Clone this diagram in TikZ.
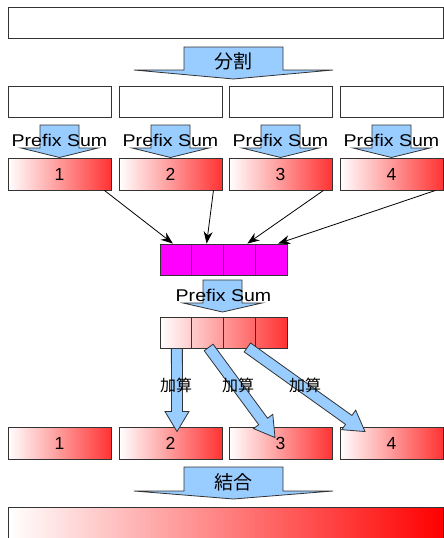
\documentclass[tikz,border=0pt]{standalone}
\usepackage{fontspec}
\setmainfont{Liberation Sans}
\newfontfamily\jpfont{Noto Sans CJK JP}
\usetikzlibrary{calc,arrows.meta}

\definecolor{arrowblue}{HTML}{99CCFF}
\definecolor{edgegray}{HTML}{333333}
\definecolor{redend}{HTML}{FF3333}
\definecolor{cellmag}{HTML}{FF00FF}

\tikzset{
  boxbase/.style={rectangle, draw=edgegray, line width=0.9pt, inner sep=0pt},
  plainbox/.style={boxbase, fill=white},
  redbox/.style={boxbase, minimum width=103pt, minimum height=32pt,
    left color=white, right color=redend,
    font=\fontsize{17.5}{17.5}\selectfont},
  blankbox/.style={plainbox, minimum width=103pt, minimum height=31pt},
  magcell/.style={boxbase, fill=cellmag, minimum width=31.75pt, minimum height=31pt},
  sumcell/.style={boxbase, minimum width=31.75pt, minimum height=31pt},
  psumlabel/.style={inner sep=0pt, font=\fontsize{17}{17}\selectfont},
  jplabel/.style={inner sep=0pt, font=\jpfont\fontsize{19}{19}\selectfont},
  addlabel/.style={inner sep=0pt, font=\jpfont\fontsize{16}{16}\selectfont},
  bigblue/.style={fill=arrowblue, draw=edgegray, line width=0.8pt, line join=miter},
  link/.style={draw=black, line width=0.8pt, -{Stealth[length=12pt,width=9pt]}},
}

% wide flat down arrow: centre x, top y, shoulder y, tip y, half body, half wing
\newcommand\flatarrow[6]{%
  \draw[bigblue] ({#1-#5},#2) -- ({#1+#5},#2) -- ({#1+#5},#3) -- ({#1+#6},#3)
    -- (#1,#4) -- ({#1-#6},#3) -- ({#1-#5},#3) -- cycle;}

% slim block arrow from point #1 to point #2
\newcommand\addarrow[2]{%
  \draw[bigblue] let \p1=(#1), \p2=(#2) in
    coordinate (hb) at ($(\p2)!20pt!(\p1)$)
    ($(\p1)!5.5pt!90:(\p2)$) -- ($(hb)!5.5pt!-90:(\p1)$) -- ($(hb)!12pt!-90:(\p1)$)
    -- (\p2) -- ($(hb)!12pt!90:(\p1)$) -- ($(hb)!5.5pt!90:(\p1)$)
    -- ($(\p1)!5.5pt!-90:(\p2)$) -- cycle;}

\begin{document}
\begin{tikzpicture}[x=1pt, y=-1pt]
\useasboundingbox (0,0) rectangle (444,538);
\clip (0,0) rectangle (444,538);

% whole input
\node[plainbox, minimum width=435pt, minimum height=31pt] (whole) at (225.5,22.5) {};

% split
\flatarrow{233.5}{47}{70}{79}{49.5}{99.5}
\node[jplabel] (split) at (233.5,61) {分割};

% four blocks
\foreach \i/\cx in {1/59.5, 2/170.5, 3/280.5, 4/391.5} {
  \node[blankbox] (b\i) at (\cx,101.5) {};
  \node[redbox] (r\i) at (\cx,174) {\i};
  \flatarrow{\cx}{125}{148}{157.5}{19.5}{38.5}
  \node[psumlabel] (ps\i) at (\cx,140) {\scalebox{1.15}[1]{Prefix Sum}};
}

% totals gathered
\foreach \i in {1,...,4}
  \node[magcell] (m\i) at ({160+31.75*(\i-0.5)},259.5) {};

\draw[link] ($(r1.south east)+(-7,0)$) -- ($(m1.north)+(-3,0)$);
\draw[link] ($(r2.south east)+(-9,0)$) -- ($(m2.north)+(-1,0)$);
\draw[link] ($(r3.south east)+(-9,0)$) -- ($(m3.north)+(8,0)$);
\draw[link] ($(r4.south east)+(-8,0)$) -- ($(m4.north)+(7,0)$);

% prefix sum of totals
\flatarrow{222.5}{280}{303}{312}{19.5}{39.5}
\node[psumlabel] (psm) at (223.5,295) {\scalebox{1.15}[1]{Prefix Sum}};

\node[sumcell, left color=white, right color=redend!25!white] (g1) at ({160+31.75*0.5},332.5) {};
\node[sumcell, left color=redend!25!white, right color=redend!50!white] (g2) at ({160+31.75*1.5},332.5) {};
\node[sumcell, left color=redend!50!white, right color=redend!75!white] (g3) at ({160+31.75*2.5},332.5) {};
\node[sumcell, left color=redend!75!white, right color=redend] (g4) at ({160+31.75*3.5},332.5) {};

% blocks after adding
\foreach \i/\cx in {1/59.5, 2/170.5, 3/280.5, 4/391.5}
  \node[redbox] (q\i) at (\cx,443) {\i};

\addarrow{$(g1.south)+(1,0)$}{$(q2.north)+(6.5,5)$}
\addarrow{$(g2.south)+(1,-1)$}{$(q3.north)+(-5.5,11)$}
\addarrow{$(g3.south)+(8,-1)$}{$(q4.north)+(-26.5,5)$}

\node[addlabel] (a1) at (176,385) {加算};
\node[addlabel] (a2) at (238,385) {加算};
\node[addlabel] (a3) at (305,385) {加算};

% join
\flatarrow{233.5}{467}{491}{499}{49.5}{99.5}
\node[jplabel] (join) at (233.5,482) {結合};

\node[boxbase, minimum width=435pt, minimum height=38pt, anchor=north west,
  left color=white, right color=red] (result) at (8,507) {};
\end{tikzpicture}
\end{document}
